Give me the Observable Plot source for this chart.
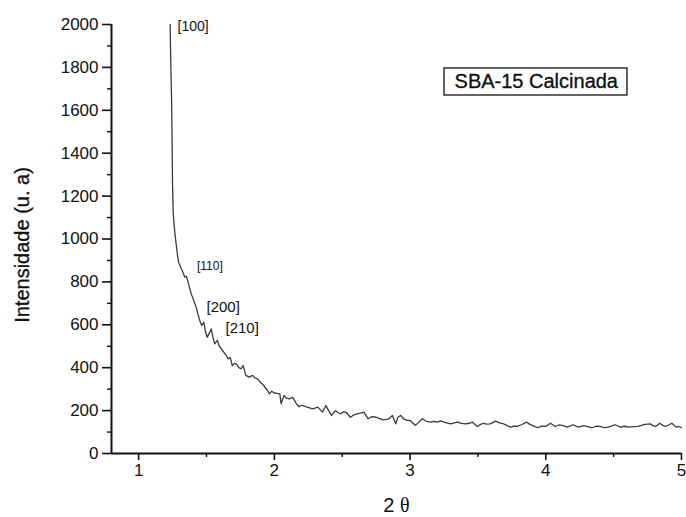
<!DOCTYPE html>
<html><head><meta charset="utf-8">
<script src="https://cdn.jsdelivr.net/npm/d3@7"></script>
<script src="https://cdn.jsdelivr.net/npm/@observablehq/plot@0.6"></script>
<style>body{margin:0;background:#fff;} #chart svg{display:block;}</style>
</head><body><div id="chart"></div>
<script>
const twoTheta = [1.232,1.236,1.240,1.243,1.246,1.250,1.255,1.262,1.270,1.277,1.285,1.294,1.305,1.315,1.326,1.340,1.350,1.358,1.372,1.387,1.405,1.424,1.437,1.450,1.465,1.480,1.492,1.505,1.520,1.535,1.548,1.560,1.580,1.595,1.610,1.628,1.645,1.660,1.675,1.690,1.705,1.720,1.738,1.755,1.770,1.790,1.815,1.840,1.858,1.875,1.900,1.915,1.930,1.948,1.963,1.980,2.000,2.020,2.040,2.050,2.070,2.090,2.110,2.135,2.160,2.180,2.205,2.230,2.255,2.280,2.300,2.320,2.355,2.380,2.400,2.420,2.450,2.470,2.490,2.510,2.530,2.560,2.585,2.610,2.635,2.660,2.690,2.720,2.750,2.775,2.800,2.840,2.870,2.895,2.910,2.930,2.956,2.980,3.000,3.040,3.090,3.120,3.150,3.175,3.200,3.225,3.250,3.275,3.300,3.325,3.350,3.380,3.410,3.435,3.460,3.495,3.520,3.540,3.565,3.590,3.630,3.660,3.690,3.715,3.740,3.765,3.790,3.820,3.860,3.880,3.900,3.940,3.970,4.000,4.035,4.070,4.095,4.120,4.160,4.200,4.240,4.280,4.310,4.340,4.370,4.400,4.430,4.460,4.510,4.550,4.580,4.610,4.645,4.680,4.705,4.730,4.770,4.790,4.810,4.840,4.860,4.880,4.905,4.930,4.960,4.980,5.000];
const intensity = [2000,1850,1720,1640,1480,1250,1120,1060,1010,975,930,892,875,860,845,822,826,814,780,745,715,682,650,620,597,612,570,542,560,581,540,511,527,500,488,472,457,441,448,410,420,418,400,395,410,364,356,364,352,348,330,322,309,296,278,290,282,280,278,232,270,258,255,262,235,219,225,219,214,208,212,216,193,224,200,177,200,190,185,195,191,169,180,185,188,193,162,172,169,163,157,160,177,138,169,177,160,154,154,131,162,150,146,150,146,152,146,142,138,143,146,140,138,141,146,126,136,141,137,138,151,143,138,130,123,128,126,134,146,137,131,120,128,126,141,126,133,131,123,134,123,130,125,120,127,126,121,123,134,123,127,123,125,126,131,136,138,130,126,141,132,126,133,141,123,126,120];
const xTicks = [1, 2, 3, 4, 5];
const xMinorTicks = [1.5, 2.5, 3.5, 4.5];
const yTicks = [0, 200, 400, 600, 800, 1000, 1200, 1400, 1600, 1800, 2000];
const yMinorTicks = [100, 300, 500, 700, 900, 1100, 1300, 1500, 1700, 1900];
const peakNames = ["[100]", "[110]", "[200]", "[210]"];
const sampleName = "SBA-15 Calcinada";

const data = twoTheta.map((t, i) => ({t, v: intensity[i]}));
const ink = "#111";
const heavy = {stroke: ink, strokeWidth: 0.35};

const chart = Plot.plot({
  width: 686,
  height: 517,
  marginLeft: 111,
  marginRight: 5,
  marginTop: 24,
  marginBottom: 64,
  style: {fontFamily: "'Liberation Sans', Arial, sans-serif", background: "#fff", color: ink},
  x: {domain: [0.8, 5]},
  y: {domain: [0, 2000]},
  marks: [
    Plot.axisY({ticks: yTicks, tickSize: 9, tickPadding: 4, fontSize: 17, strokeWidth: 1.6, label: null, tickFormat: d => String(d)}),
    Plot.axisY({ticks: yMinorTicks, tickSize: 4, strokeWidth: 1.4, label: null, text: null}),
    Plot.axisX({ticks: xTicks, tickSize: 7, tickPadding: 3, fontSize: 17, strokeWidth: 1.6, label: null, tickFormat: d => String(d)}),
    Plot.axisX({ticks: xMinorTicks, tickSize: 4, strokeWidth: 1.4, label: null, text: null}),
    Plot.ruleX([0.8], {y1: 0, y2: 2000, stroke: ink, strokeWidth: 2}),
    Plot.ruleY([0], {x1: 0.8, x2: 5, stroke: ink, strokeWidth: 2}),
    Plot.line(data, {x: "t", y: "v", stroke: "#3a3a3a", strokeWidth: 1.3}),
    Plot.text([peakNames[0]], {x: 1.287, y: 1991, text: d => d, textAnchor: "start", fontSize: 14, fill: ink}),
    Plot.text([peakNames[1]], {x: 1.43, y: 872, text: d => d, textAnchor: "start", fontSize: 12, fill: ink}),
    Plot.text([peakNames[2]], {x: 1.50, y: 681, text: d => d, textAnchor: "start", fontSize: 15, fill: ink}),
    Plot.text([peakNames[3]], {x: 1.64, y: 583, text: d => d, textAnchor: "start", fontSize: 15, fill: ink}),
    Plot.rect([sampleName], {x1: 3.254, x2: 4.602, y1: 1669, y2: 1795, fill: "none", stroke: ink, strokeWidth: 1.3}),
    Plot.text([sampleName], {x: 3.93, y: 1732, text: d => d, fontSize: 20, fill: ink, ...heavy}),
    Plot.text(["Intensidade (u. a)"], {frameAnchor: "left", dx: -89, dy: 6, rotate: -90, text: d => d, fontSize: 20, fill: ink, textAnchor: "middle", lineAnchor: "middle", ...heavy}),
    Plot.text(["2 θ"], {frameAnchor: "bottom", dy: 52, text: d => d, fontSize: 20, fill: ink, lineAnchor: "middle", className: "xtitle"})
  ]
});
// make θ serif, as in the original (Symbol-style glyph)
const xt = chart.querySelector(".xtitle text");
if (xt) {
  const full = xt.textContent;
  xt.textContent = "";
  const a = document.createElementNS("http://www.w3.org/2000/svg", "tspan");
  a.textContent = full.slice(0, 2);
  const b = document.createElementNS("http://www.w3.org/2000/svg", "tspan");
  b.textContent = full.slice(2);
  b.setAttribute("font-family", "'Liberation Serif', 'DejaVu Serif', serif");
  xt.appendChild(a); xt.appendChild(b);
}
document.getElementById("chart").appendChild(chart);
</script>
</body></html>
